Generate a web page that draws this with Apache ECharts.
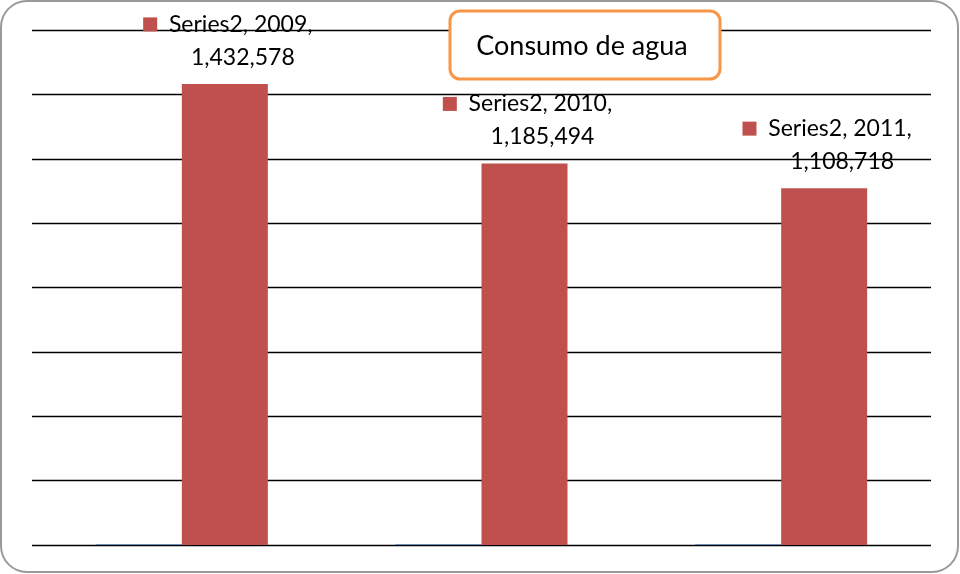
<!DOCTYPE html>
<html>
<head>
<meta charset="utf-8">
<script src="https://cdn.jsdelivr.net/npm/echarts@6/dist/echarts.min.js"></script>
<style>
  html, body { margin: 0; padding: 0; background: #fff; }
  #chart { width: 960px; height: 574px; }
</style>
</head>
<body>
<div id="chart"></div>
<script>
// datos del grafico
const years = ['2009', '2010', '2011'];
const series1 = [2009, 2010, 2011];
const series2 = [1432578, 1185494, 1108718];
const titleText = 'Consumo de agua';

const chart = echarts.init(document.getElementById('chart'));

function fmt(v) {
  return v.toLocaleString('en-US');
}

chart.setOption({
  animation: false,
  textStyle: { fontFamily: 'Lato, "Open Sans", sans-serif' },
  grid: { left: 32, right: 29, top: 30, bottom: 29 },
  xAxis: {
    type: 'category',
    data: years,
    axisLine: { show: false },
    axisTick: { show: false },
    axisLabel: { show: false }
  },
  yAxis: {
    type: 'value',
    min: 0,
    max: 1600000,
    interval: 200000,
    axisLabel: { show: false },
    axisLine: { show: false },
    splitLine: { lineStyle: { color: '#000', width: 1.3 } }
  },
  series: [
    {
      name: 'Series1',
      type: 'bar',
      data: series1,
      barWidth: 86,
      barGap: '0%',
      itemStyle: { color: '#4F81BD' }
    },
    {
      name: 'Series2',
      type: 'bar',
      data: series2,
      barWidth: 86,
      barGap: '0%',
      itemStyle: { color: '#C0504D' },
      label: {
        show: true,
        position: 'top',
        distance: 10,
        offset: [3, 0],
        color: '#000',
        fontSize: 23,
        lineHeight: 33,
        fontFamily: 'Lato, "Open Sans", sans-serif',
        formatter: p => '{sq|}  Series2, ' + p.name + ',\n{pad|}' + fmt(p.value),
        rich: {
          sq: { width: 14, height: 14, backgroundColor: '#C0504D' },
          pad: { width: 30 }
        }
      }
    }
  ],
  graphic: [
    {
      type: 'rect',
      z: 100,
      shape: { x: 1, y: 1, width: 957, height: 571, r: 26 },
      style: { fill: 'none', stroke: '#999', lineWidth: 2 }
    },
    {
      type: 'rect',
      z: 100,
      shape: { x: 450, y: 11, width: 270, height: 68, r: 10 },
      style: { fill: '#fff', stroke: '#F79646', lineWidth: 3 }
    },
    {
      type: 'text',
      z: 101,
      x: 582,
      y: 46,
      style: {
        text: titleText,
        fill: '#000',
        fontSize: 27,
        fontFamily: 'Lato, "Open Sans", sans-serif',
        align: 'center',
        verticalAlign: 'middle'
      }
    }
  ]
});
</script>
</body>
</html>
